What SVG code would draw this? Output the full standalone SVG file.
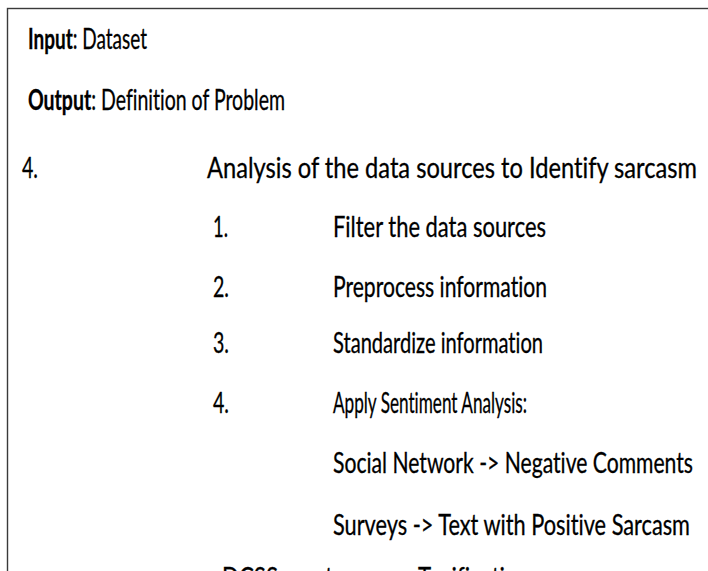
<svg xmlns="http://www.w3.org/2000/svg" width="708" height="571" viewBox="0 0 708 571">
<style>
text{font-family:Lato,"Open Sans","Liberation Sans",sans-serif;font-size:28px;fill:#000;stroke:#000;stroke-width:0.3;font-variant-ligatures:none;}
.b{font-weight:bold;}
.frame{fill:none;stroke:#3a3a3a;stroke-width:1.4;}
</style>
<rect x="0" y="0" width="708" height="571" fill="#fff"/>
<rect class="frame" x="7.5" y="8.5" width="720" height="620"/>
<g id="header">
<text x="28" y="49" textLength="119" lengthAdjust="spacingAndGlyphs"><tspan class="b">Input</tspan>: Dataset</text>
<text x="28" y="110" textLength="257" lengthAdjust="spacingAndGlyphs"><tspan class="b">Output</tspan>: Definition of Problem</text>
</g>
<g id="step4">
<text x="22" y="178" textLength="16" lengthAdjust="spacingAndGlyphs">4.</text>
<text x="207" y="178" textLength="490" lengthAdjust="spacingAndGlyphs">Analysis of the data sources to Identify sarcasm</text>
</g>
<g id="sub1">
<text x="213" y="237" textLength="15" lengthAdjust="spacingAndGlyphs">1.</text>
<text x="333" y="237" textLength="213" lengthAdjust="spacingAndGlyphs">Filter the data sources</text>
</g>
<g id="sub2">
<text x="213" y="297" textLength="16" lengthAdjust="spacingAndGlyphs">2.</text>
<text x="333" y="297" textLength="214" lengthAdjust="spacingAndGlyphs">Preprocess information</text>
</g>
<g id="sub3">
<text x="213" y="353" textLength="16" lengthAdjust="spacingAndGlyphs">3.</text>
<text x="333" y="353" textLength="210" lengthAdjust="spacingAndGlyphs">Standardize information</text>
</g>
<g id="sub4">
<text x="213" y="413" textLength="16" lengthAdjust="spacingAndGlyphs">4.</text>
<text x="333" y="413" textLength="194" lengthAdjust="spacingAndGlyphs">Apply Sentiment Analysis:</text>
</g>
<g id="map1">
<text x="333" y="473" textLength="360" lengthAdjust="spacingAndGlyphs">Social Network -&gt; Negative Comments</text>
</g>
<g id="map2">
<text x="333" y="535" textLength="357" lengthAdjust="spacingAndGlyphs">Surveys -&gt; Text with Positive Sarcasm</text>
</g>
<g id="map3">
<text x="222" y="588"><tspan textLength="56" lengthAdjust="spacingAndGlyphs">DCSS</tspan><tspan x="294" textLength="70" lengthAdjust="spacingAndGlyphs">system</tspan><tspan x="372" textLength="24" lengthAdjust="spacingAndGlyphs">-&gt;</tspan><tspan x="418" textLength="112" lengthAdjust="spacingAndGlyphs">Toxification</tspan></text>
</g>
</svg>
